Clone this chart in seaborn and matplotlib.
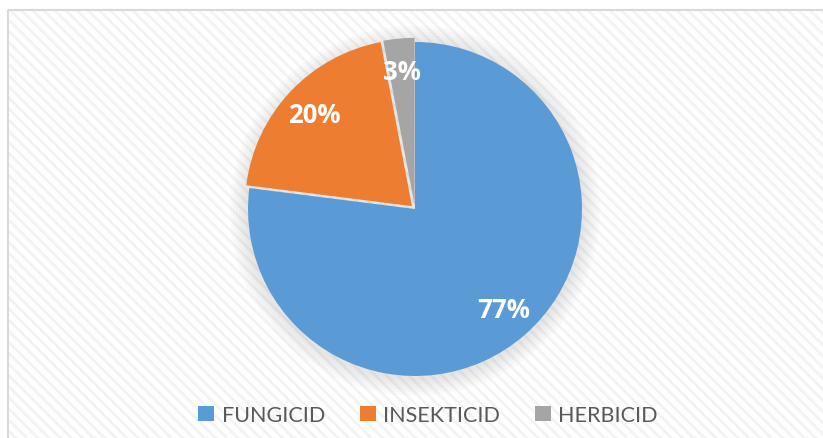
import matplotlib
matplotlib.use('Agg')
import matplotlib.pyplot as plt
import seaborn as sns
from matplotlib.patches import Rectangle, Circle, Patch

# Pesticide share data
categories = ['FUNGICID', 'INSEKTICID', 'HERBICID']
shares = [77, 20, 3]
colors = ['#5B9BD5', '#ED7D31', '#A5A5A5']

sns.set_style('white')
plt.rcParams['font.family'] = ['Lato', 'DejaVu Sans']
plt.rcParams['hatch.linewidth'] = 2.0
plt.rcParams['hatch.color'] = '#f3f3f3'

W, H = 823, 439
fig = plt.figure(figsize=(W / 100, H / 100), dpi=100)

# Hatched chart-area background with a light border (in its own axes behind the pie)
bgax = fig.add_axes([0, 0, 1, 1], zorder=0)
bgax.axis('off')
bgax.set_xlim(0, W)
bgax.set_ylim(H, 0)
bgax.add_patch(Rectangle((8, 11), W, H, facecolor='white', edgecolor='#f3f3f3',
                         hatch='\\\\\\', lw=0))
bgax.add_patch(Rectangle((8, 11), W, H, facecolor='none', edgecolor='#d9d9d9', lw=1.5))

# Pie axes: center at (415, 210) px, radius ~167 px
r = 167
ax = fig.add_axes([(415 - r) / W, (H - 210 - r) / H, 2 * r / W, 2 * r / H], zorder=2)

wedges, texts, autotexts = ax.pie(
    shares, colors=colors, startangle=90, counterclock=False,
    explode=[0, 0.025, 0.025], autopct='%1.0f%%', pctdistance=0.8,
    wedgeprops=dict(linewidth=0), radius=1.0,
    textprops=dict(color='white', fontsize=18.5, fontweight='bold', family='Open Sans'))
for w in wedges:
    w.set_clip_on(False)

# Soft shadow around the pie
for i in range(6):
    ax.add_patch(Circle((0.0, -0.01), 1.0 + 0.018 * (i + 1), color='#8a8a8a', alpha=0.035,
                        lw=0, zorder=0, clip_on=False))

ax.set_xlim(-1, 1)
ax.set_ylim(-1, 1)
ax.set_aspect('equal')
ax.axis('off')

# Legend at the bottom
handles = [Patch(facecolor=c, edgecolor='none') for c in colors]
fig.legend(handles, categories, loc='center', bbox_to_anchor=(428 / W, 1 - 416 / H),
           ncol=3, frameon=False, fontsize=15.5, handlelength=0.75, handleheight=0.75,
           handletextpad=0.35, columnspacing=1.6, labelcolor='#595959')

fig.savefig('out.png', dpi=100)
